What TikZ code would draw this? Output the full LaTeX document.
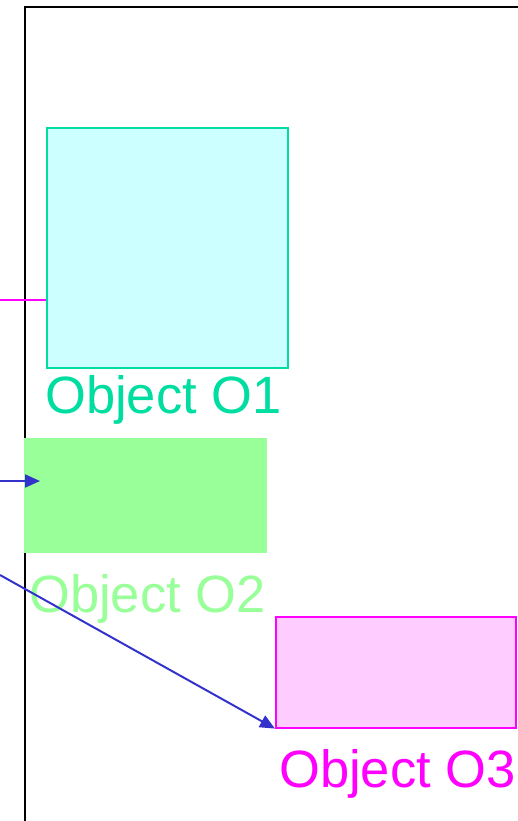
\documentclass[tikz,border=0pt]{standalone}
\usepackage{fontspec}
\setmainfont{Liberation Sans}
\usetikzlibrary{arrows.meta}
\definecolor{turq}{HTML}{00DDA0}
\definecolor{cyanfill}{HTML}{CCFFFF}
\definecolor{greenfill}{HTML}{99FF99}
\definecolor{pinkfill}{HTML}{FFCCFF}
\definecolor{magentaline}{HTML}{FF00FF}
\definecolor{bluearrow}{HTML}{3333CC}
\tikzset{
  objbox/.style={draw, line width=1.6pt, inner sep=0pt, anchor=north west},
  objlabel/.style={anchor=base west, inner sep=0pt, font=\fontsize{52.5}{62}\selectfont},
  flow/.style={draw=bluearrow, line width=2pt, -{Triangle[length=15pt,width=13pt]}},
}
\begin{document}
\begin{tikzpicture}[x=1pt,y=-1pt]
\useasboundingbox (0,0) rectangle (518,821);
% incoming links from the left
\coordinate (inA) at (0,300);
\coordinate (inB) at (0,481);
\coordinate (inC) at (0,575);
% enclosing frame
\draw[line width=1.8pt] (25,821) -- (25,7) -- (520,7);
% objects
\node[objbox, draw=turq, fill=cyanfill, minimum width=241pt, minimum height=240pt] (o1) at (46,127) {};
\node[objlabel, text=turq] (l1) at (45,413) {Object O1};
\node[objbox, draw=greenfill, fill=greenfill, minimum width=241pt, minimum height=113pt] (o2) at (24,438) {};
\node[objlabel, text=greenfill] (l2) at (29,612) {Object O2};
\node[objbox, draw=magentaline, fill=pinkfill, minimum width=240pt, minimum height=111pt] (o3) at (275,616) {};
\node[objlabel, text=magentaline] (l3) at (279,787) {Object O3};
% connectors
\draw[magentaline, line width=2pt] (inA) -- (o1.west |- inA);
\draw[flow] (inB) -- ([xshift=16pt]o2.west |- inB);
\draw[flow] (inC) -- (o3.south west);
\end{tikzpicture}
\end{document}
